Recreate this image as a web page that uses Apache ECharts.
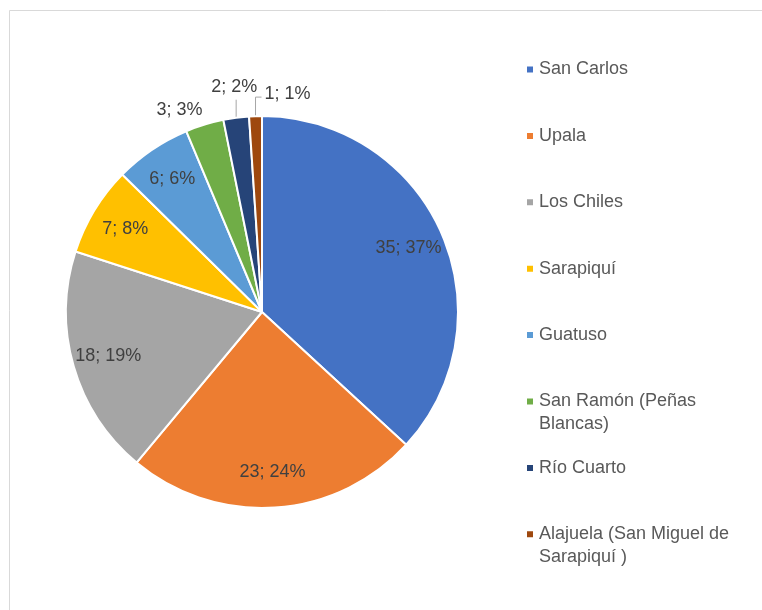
<!DOCTYPE html>
<html>
<head>
<meta charset="utf-8">
<script src="https://cdn.jsdelivr.net/npm/echarts@6/dist/echarts.min.js"></script>
<style>html,body{margin:0;padding:0;background:#fff;}#c{width:762px;height:610px;}</style>
</head>
<body>
<div id="c"></div>
<script>
const categories = ["San Carlos", "Upala", "Los Chiles", "Sarapiquí", "Guatuso", "San Ramón (Peñas Blancas)", "Río Cuarto", "Alajuela (San Miguel de Sarapiquí )"];
const values = [35, 23, 18, 7, 6, 3, 2, 1];
const percentLabels = [37, 24, 19, 8, 6, 3, 2, 1];
const colors = ["#4472C4", "#ED7D31", "#A5A5A5", "#FFC000", "#5B9BD5", "#70AD47", "#264478", "#9E480E"];
const outsideLabels = [false, false, false, false, false, true, true, true];
const twoLineLegend = [false, false, false, false, false, true, false, true];

const FONT = "Liberation Sans";
const FS = 18;
const labelText = (i) => values[i] + "; " + percentLabels[i] + "%";

const mainData = categories.map((n, i) => ({
  name: n, value: values[i],
  itemStyle: { color: colors[i] },
  label: { show: outsideLabels[i] },
  labelLine: { show: outsideLabels[i] && i !== 5 }
}));
const overlayData = categories.map((n, i) => ({
  name: n, value: values[i],
  label: { show: !outsideLabels[i] }
}));

// square marker aligned with the first text line for wrapped entries
const topSquareIcon = "path://M0,0h8v8h-8z M0,30.99h0.01v0.01h-0.01z";

const legends = categories.map((n, i) => ({
  data: [n],
  orient: "vertical",
  left: 520,
  top: 53 + i * 66.4,
  itemWidth: 8,
  itemHeight: twoLineLegend[i] ? 31 : 8,
  icon: twoLineLegend[i] ? topSquareIcon : "rect",
  itemGap: 0,
  textStyle: { fontFamily: FONT, fontSize: FS, color: "#595959", width: 210, overflow: "break", lineHeight: 23 }
}));

function smallLabelLayout(p) {
  const pts = p.labelLinePoints;
  if (!pts) return {};
  const x0 = pts[0][0], y0 = pts[0][1];
  if (p.dataIndex === 7) {
    return {
      x: x0 + 9, y: y0 - 22, align: "left", verticalAlign: "middle",
      labelLinePoints: [[x0, y0], [x0, y0 - 19], [x0 + 6, y0 - 19]]
    };
  }
  if (p.dataIndex === 6) {
    return {
      x: x0 - 2, y: y0 - 31, align: "center", verticalAlign: "middle",
      labelLinePoints: [[x0, y0], [x0, y0 - 18], [x0, y0 - 18]]
    };
  }
  if (p.dataIndex === 5) {
    return { x: x0 - 25, y: y0 - 15, align: "center", verticalAlign: "middle" };
  }
  return {};
}

const chart = echarts.init(document.getElementById("c"), null, { renderer: "canvas" });
chart.setOption({
  animation: false,
  backgroundColor: "#fff",
  graphic: [{ type: "rect", shape: { x: 9.5, y: 10.5, width: 800, height: 700 }, style: { fill: "none", stroke: "#d9d9d9", lineWidth: 1 } }],
  legend: legends,
  series: [
    {
      type: "pie",
      center: [262, 312],
      radius: [0, 196],
      startAngle: 90,
      clockwise: true,
      avoidLabelOverlap: false,
      itemStyle: { borderColor: "#fff", borderWidth: 2 },
      label: {
        position: "outside",
        fontFamily: FONT, fontSize: FS, color: "#404040",
        formatter: (p) => labelText(p.dataIndex)
      },
      labelLine: { length: 16, length2: 6, lineStyle: { color: "#a6a6a6", width: 1 } },
      labelLayout: smallLabelLayout,
      emphasis: { disabled: true },
      data: mainData
    },
    {
      type: "pie",
      center: [262, 312],
      radius: [118, 196],
      startAngle: 90,
      clockwise: true,
      silent: true,
      avoidLabelOverlap: false,
      itemStyle: { color: "rgba(0,0,0,0)", borderWidth: 0 },
      label: {
        position: "inside",
        fontFamily: FONT, fontSize: FS, color: "#404040",
        formatter: (p) => labelText(p.dataIndex)
      },
      labelLine: { show: false },
      emphasis: { disabled: true },
      data: overlayData
    }
  ]
});
</script>
</body>
</html>
